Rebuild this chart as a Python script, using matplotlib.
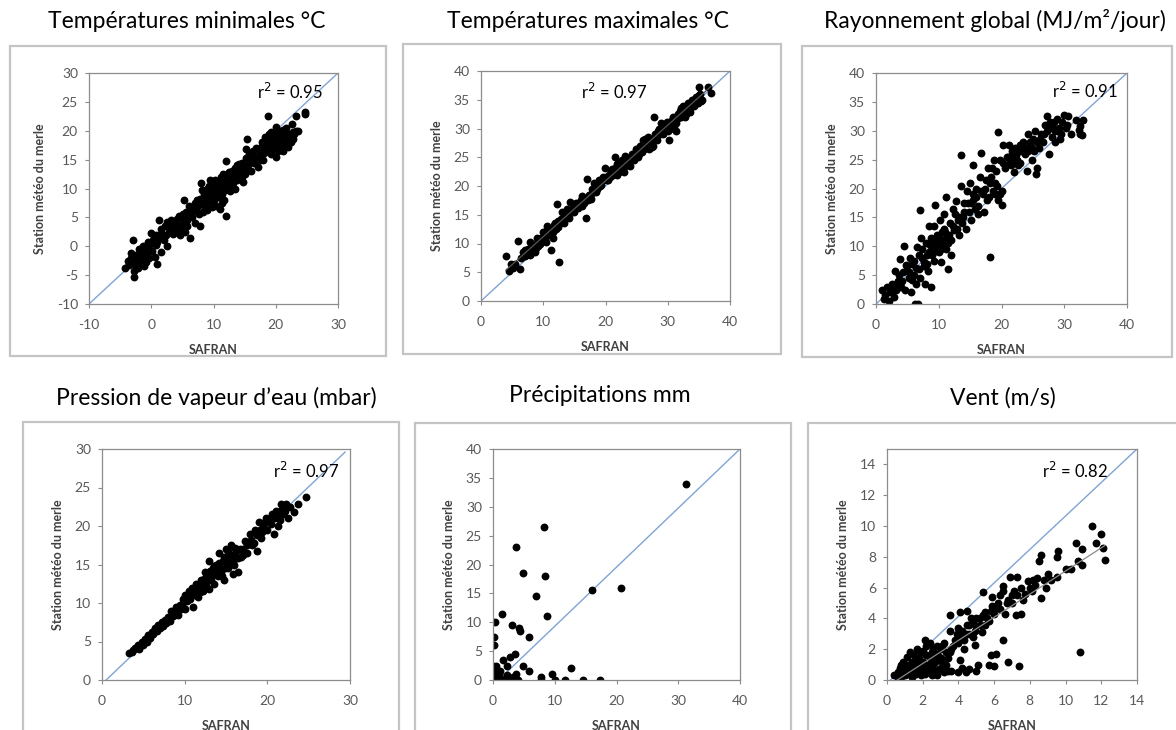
import matplotlib
matplotlib.use("Agg")
import matplotlib.pyplot as plt
import numpy as np
from matplotlib.patches import Rectangle

plt.rcParams['font.family'] = ['Lato', 'DejaVu Sans']
plt.rcParams['axes.unicode_minus'] = False

# ---------------- data (SAFRAN, station) ----------------
tmin_pts = [(-4.2,-3.8),(-3.8,-2.5),(-3.5,-3.0),(-3.2,-2.0),(-3.0,1.0),(-2.8,-5.3),(-2.7,-4.2),(-2.5,-3.5),
    (-2.4,-1.5),(-2.2,-2.5),(-2.0,-0.5),(-1.8,-3.0),(-1.7,-1.0),(-1.5,-2.2),(-1.3,0.0),(-1.2,-3.5),(-1.0,-1.5),
    (-0.8,-2.8),(-0.6,0.8),(-0.5,-1.0),(-0.3,-2.0),(0.0,0.5),(0.0,2.3),(0.2,-0.8),(0.4,1.5),(0.6,-1.8),(0.8,2.0),
    (1.0,-3.0),(1.0,0.8),(1.2,1.5),(1.3,4.5),(1.5,3.0),(1.6,-1.0),(1.8,2.2),(2.0,1.0),(2.2,3.5),(2.5,4.2),(2.6,0.0),
    (2.8,2.5),(3.0,3.0),(3.3,3.8),(3.5,2.2),(3.8,4.2),(4.0,2.8),(4.2,4.8),(4.5,3.5),(4.6,2.0),(4.8,5.0),(5.0,3.0),
    (5.2,4.2),(5.3,8.0),(5.5,2.5),(5.6,6.0),(5.8,4.5),(6.0,5.5),(6.2,1.5),(6.3,6.5),(6.5,5.0),(6.8,7.0),(7.0,4.0),
    (7.2,6.2),(7.4,8.0),(7.6,5.5),(7.8,3.5),(8.0,11.0),(8.0,7.5),(8.3,6.0),(8.5,9.0),(8.6,7.0),(8.8,8.5),(9.0,10.0),
    (9.0,6.2),(9.2,7.8),(9.4,11.5),(9.5,9.0),(9.7,6.8),(10.0,8.0),(10.0,10.5),(10.2,11.5),(10.4,7.0),(10.5,9.5),
    (10.7,8.5),(10.8,11.0),(11.0,10.0),(11.0,6.5),(11.2,12.0),(11.4,9.0),(11.5,10.8),(11.7,8.0),(12.0,5.3),
    (12.0,14.7),(12.0,11.5),(12.2,10.0),(12.5,12.8),(12.7,9.5),(13.0,13.0),(13.2,11.0),(13.5,10.0),(13.6,12.2),
    (13.8,14.0),(14.0,11.8),(14.2,13.0),(14.5,12.0),(14.6,14.5),(14.8,11.2),(15.0,13.5),(15.2,16.8),(15.4,18.5),
    (15.5,14.0),(15.8,15.0),(16.0,13.0),(16.2,15.8),(16.5,14.5),(16.8,17.0),(17.0,15.5),(17.2,13.8),(17.5,16.0),
    (17.8,18.0),(18.0,15.0),(18.0,17.2),(18.2,19.0),(18.5,16.5),(18.8,22.6),(19.0,18.0),(19.2,16.0),(19.4,18.8),
    (19.6,17.5),(19.8,19.5),(20.0,20.6),(20.0,15.5),(20.2,18.2),(20.4,17.0),(20.6,19.5),(20.8,20.0),(21.0,18.5),
    (21.2,16.5),(21.4,19.0),(21.6,17.5),(21.8,18.8),(22.0,19.5),(22.2,17.8),(22.5,18.0),(22.6,21.2),(22.8,19.8),
    (23.3,22.6),(23.3,20.0),(24.7,23.2),(24.7,22.9),
    (-3.6,-3.2),(-3.3,-1.2),(-2.9,-2.8),(-2.1,-3.8),(-1.9,-1.8),(-1.4,-0.5),(-0.9,-0.2),(-0.4,0.2),(0.3,1.0),
    (0.7,0.2),(1.4,2.0),(2.3,2.0),(3.1,4.5),(3.6,3.0),(4.1,3.8),(4.4,5.2),(5.1,5.5),(5.7,3.5),(6.1,7.0),(6.6,6.0),
    (7.0,7.5),(7.5,7.0),(7.9,8.2),(8.2,9.8),(8.4,8.0),(8.9,9.5),(9.1,8.2),(9.3,10.5),(9.6,8.0),(9.8,10.2),
    (10.1,9.0),(10.3,8.5),(10.6,10.5),(10.9,9.2),(11.1,11.2),(11.3,7.5),(11.6,12.5),(11.8,9.8),(12.1,12.2),
    (12.3,11.0),(12.6,10.5),(12.9,11.8),(13.1,12.5),(13.4,13.5),(13.7,11.5),(14.1,14.2),(14.4,12.8),(14.7,13.2),
    (15.1,12.5),(15.3,15.2),(15.7,16.0),(16.1,14.8),(16.4,16.5),(16.7,15.2),(17.1,16.8),(17.4,15.0),(17.7,17.2),
    (18.1,16.2),(18.4,18.0),(18.7,17.0),(18.9,19.5),(19.1,17.2),(19.3,19.8),(19.5,16.8),(19.7,18.2),(20.1,19.2),
    (20.3,16.5),(20.5,18.5),(20.7,17.8),(20.9,19.0),(21.1,20.2),(21.3,17.5),(21.5,18.2),(21.7,20.5),(21.9,17.2),
    (22.1,18.5),(22.3,19.0),(22.7,18.5),(23.0,19.5),(23.5,20.0)]

tmax_pts = [(4.0,7.8),(4.5,5.3),(4.8,6.5),(5.2,5.8),(6.0,10.5),(6.3,5.5),(6.5,7.5),(6.8,8.5),(7.0,7.8),(7.3,8.0),
    (7.6,9.0),(7.8,10.3),(8.0,8.3),(8.3,9.5),(8.5,8.8),(8.8,9.2),(9.0,11.0),(9.2,9.6),(9.5,10.0),(9.8,10.5),
    (10.0,12.0),(10.2,11.2),(10.4,10.3),(10.6,13.0),(10.8,11.5),(11.0,12.4),(11.3,8.8),(11.5,11.0),(11.7,13.2),
    (12.0,12.5),(12.2,16.8),(12.4,14.0),(12.5,6.7),(12.7,13.5),(13.0,15.5),(13.2,14.0),(13.5,14.5),(13.8,16.0),
    (14.0,15.0),(14.3,17.2),(14.6,16.0),(15.0,15.5),(15.3,17.0),(15.6,16.2),(16.0,17.5),(16.3,18.3),(16.6,17.0),
    (16.9,14.5),(17.1,21.3),(17.3,18.5),(17.6,17.8),(17.9,19.5),(18.2,20.5),(18.5,19.0),(18.8,20.0),(19.0,21.0),
    (19.3,20.2),(19.6,21.5),(19.9,23.2),(20.2,21.0),(20.5,22.0),(20.8,21.5),(21.0,23.0),(21.3,22.5),(21.5,25.0),
    (21.8,22.0),(22.0,24.0),(22.3,23.0),(22.6,24.5),(22.9,22.5),(23.2,25.3),(23.5,24.0),(23.8,24.8),(24.0,23.5),
    (24.3,25.5),(24.6,24.6),(24.9,26.5),(25.2,25.0),(25.5,27.0),(25.8,26.0),(26.0,28.0),(26.2,26.5),(26.5,27.5),
    (26.8,28.5),(27.0,26.5),(27.3,28.0),(27.6,27.0),(27.8,32.0),(28.0,29.0),(28.3,28.0),(28.6,30.0),(28.9,31.0),
    (29.2,29.0),(29.5,30.5),(29.8,31.2),(30.0,29.5),(30.2,28.0),(30.5,31.0),(30.8,32.0),(31.0,30.5),(31.3,29.5),
    (31.6,32.5),(31.9,33.0),(32.2,32.0),(32.5,34.0),(32.8,33.0),(33.0,32.5),(33.3,34.5),(33.6,33.5),(33.9,35.0),
    (34.2,34.0),(34.5,35.5),(34.8,34.5),(35.0,37.3),(35.2,36.0),(35.5,35.0),(36.5,37.3),(37.0,36.1),
    (5.5,6.5),(7.1,8.8),(7.9,8.0),(8.2,10.0),(8.7,8.5),(9.1,10.2),(9.6,11.0),(10.1,10.8),(10.5,12.2),(11.1,11.5),
    (11.6,12.0),(11.9,13.5),(12.3,12.8),(12.8,14.2),(13.3,13.5),(13.7,15.0),(14.2,14.5),(14.8,15.8),(15.2,16.5),
    (15.8,17.0),(16.2,16.5),(16.8,18.0),(17.2,17.5),(17.8,18.8),(18.3,19.2),(18.7,19.5),(19.1,20.0),(19.5,20.8),
    (20.0,21.5),(20.4,21.0),(20.9,22.5),(21.2,22.0),(21.6,23.2),(21.9,23.8),(22.2,22.5),(22.5,23.5),(22.8,24.0),
    (23.1,23.5),(23.4,24.8),(23.7,24.2),(24.1,25.0),(24.5,25.2),(24.8,25.8),(25.1,26.2),(25.4,25.5),(25.7,26.8),
    (25.9,27.2),(26.1,27.0),(26.4,28.2),(26.7,27.0),(26.9,28.0),(27.1,27.5),(27.4,26.8),(27.7,28.2),(28.1,28.5),
    (28.4,29.5),(28.7,29.0),(29.0,30.2),(29.4,29.8),(29.7,30.0),(30.1,30.8),(30.4,30.0),(30.7,31.5),(31.1,31.5),
    (31.4,31.0),(31.7,31.8),(32.1,33.5),(32.4,32.8),(32.7,32.0),(33.1,33.8),(33.5,32.8),(33.8,34.2),(34.1,35.0),
    (34.4,34.2),(34.7,35.2),(35.1,35.8),(35.3,34.8)]

ray_pts = [(1.0,2.5),(1.2,0.8),(1.5,1.5),(1.8,3.0),(2.0,0.5),(2.2,2.0),(2.5,3.5),(2.8,1.2),(3.0,5.8),(3.2,2.5),
    (3.5,4.0),(3.8,7.8),(4.0,3.0),(4.3,5.5),(4.5,10.0),(4.7,2.5),(5.0,6.5),(5.2,4.5),(5.4,8.0),(5.5,2.0),(5.8,7.0),
    (6.0,5.0),(6.2,0.0),(6.3,3.5),(6.5,9.8),(6.7,0.0),(6.8,6.0),(7.0,16.3),(7.0,4.5),(7.2,11.5),(7.4,8.0),(7.6,6.5),
    (7.8,3.5),(8.0,10.5),(8.2,7.0),(8.4,13.5),(8.5,9.0),(8.8,2.9),(8.8,11.5),(9.0,8.5),(9.2,13.5),(9.4,17.2),
    (9.5,10.0),(9.8,12.0),(10.0,9.0),(10.2,14.5),(10.4,7.2),(10.6,11.0),(10.8,15.5),(11.0,12.5),(11.2,18.5),
    (11.5,6.0),(11.5,10.5),(11.8,14.0),(12.0,8.5),(12.2,16.5),(12.5,12.8),(12.8,17.8),(13.0,14.5),(13.2,12.0),
    (13.5,25.8),(13.5,20.5),(13.8,15.0),(14.0,17.5),(14.3,13.0),(14.5,19.5),(14.8,16.0),(15.0,21.0),(15.2,14.5),
    (15.5,24.0),(15.5,18.0),(15.8,16.5),(16.0,20.0),(16.2,15.5),(16.5,22.0),(16.7,26.2),(17.0,19.0),(17.2,16.0),
    (17.5,21.5),(17.8,23.5),(18.0,18.5),(18.2,8.1),(18.4,22.0),(18.6,19.5),(18.8,25.0),(19.0,21.0),(19.2,23.0),
    (19.5,29.8),(19.5,18.0),(19.8,25.0),(20.0,19.5),(20.0,17.2),(20.3,27.5),(20.6,23.5),(21.0,25.5),(21.2,27.5),
    (21.5,24.0),(21.8,26.0),(22.0,22.8),(22.2,27.0),(22.5,25.0),(22.8,26.5),(23.0,24.5),(23.5,28.0),(23.8,26.0),
    (24.0,23.0),(24.2,29.5),(24.5,27.5),(24.8,25.0),(25.0,28.5),(25.3,30.0),(25.5,22.5),(25.7,23.5),(26.0,27.0),
    (26.3,29.5),(26.6,28.0),(27.0,31.0),(27.3,32.5),(27.5,26.0),(27.8,30.5),(28.0,29.0),(28.3,31.5),(28.6,28.0),
    (29.0,30.0),(29.3,28.5),(29.6,31.5),(30.0,32.8),(30.3,30.5),(30.6,32.5),(31.0,29.5),(31.8,31.8),(32.3,30.2),
    (32.5,30.8),(32.8,29.2),(33.0,31.8),
    (2.0,2.8),(2.6,2.2),(3.3,3.5),(3.7,5.0),(4.2,4.0),(4.8,6.8),(5.3,5.5),(5.7,4.2),(6.0,7.5),(6.4,6.2),(6.9,8.5),
    (7.3,9.5),(7.7,7.2),(8.1,8.5),(8.3,5.8),(8.6,10.2),(8.9,9.2),(9.1,11.0),(9.3,7.5),(9.6,9.2),(9.9,10.8),
    (10.1,11.8),(10.3,9.5),(10.5,12.5),(10.7,10.0),(10.9,13.0),(11.1,9.5),(11.3,11.8),(11.6,12.0),(11.9,11.0),
    (12.3,13.5),(12.6,15.5),(12.9,13.0),(13.3,15.0),(13.7,14.0),(14.1,16.0),(14.6,17.5),(15.1,17.5),(15.4,19.0),
    (15.9,18.5),(16.3,17.0),(16.8,19.5),(17.3,20.0),(17.7,18.0),(18.1,21.0),(18.5,23.5),(18.9,19.0),(19.3,20.5),
    (19.7,19.0),(20.2,24.5),(20.8,25.5),(21.3,24.5),(21.6,26.5),(21.9,25.0),(22.3,25.8),(22.6,24.0),(22.9,27.5),
    (23.3,26.5),(23.7,27.0),(24.3,26.5),(24.6,28.0),(24.9,27.0),(25.2,26.5),(25.6,28.0),(26.2,28.5),(26.8,29.5),
    (27.2,30.0),(27.7,31.5),(28.2,30.5),(28.5,30.0),(28.8,32.0),(29.2,30.5),(29.5,29.5),(30.5,31.0),(32.5,29.5)]

vap_pts = [(3.3,3.5),(3.6,3.6),(4.0,4.2),(4.3,4.5),(4.5,4.0),(4.8,5.0),(5.0,4.5),(5.2,5.3),(5.4,5.0),(5.6,5.8),
    (5.8,5.5),(6.0,6.2),(6.2,6.0),(6.4,6.8),(6.6,6.3),(6.8,7.2),(7.0,6.8),(7.2,7.5),(7.4,7.0),(7.6,7.8),(7.8,7.4),
    (8.0,8.2),(8.2,7.6),(8.4,9.0),(8.6,8.3),(8.8,8.8),(9.0,9.5),(9.2,8.5),(9.4,9.8),(9.6,9.2),(9.8,10.5),(10.0,9.2),
    (10.0,11.0),(10.3,10.2),(10.5,11.5),(10.7,10.5),(10.9,12.0),(11.0,9.5),(11.2,11.2),(11.4,12.5),(11.6,10.8),
    (11.8,12.0),(12.0,13.0),(12.2,11.5),(12.4,14.0),(12.6,12.2),(12.8,13.5),(13.0,15.5),(13.0,11.8),(13.2,13.0),
    (13.4,14.5),(13.6,12.5),(13.8,15.0),(14.0,13.5),(14.2,16.5),(14.4,14.0),(14.6,15.5),(14.8,13.0),(15.0,17.0),
    (15.2,14.5),(15.4,16.0),(15.6,17.5),(15.8,13.8),(16.0,15.0),(16.2,16.8),(16.5,14.0),(16.8,16.0),(17.0,17.0),
    (17.3,18.0),(17.6,16.5),(17.9,19.0),(18.2,17.5),(18.5,19.5),(18.8,16.8),(19.0,20.5),(19.2,18.5),(19.5,20.0),
    (19.8,21.0),(20.0,19.5),(20.3,20.5),(20.6,21.5),(20.8,19.0),(21.0,22.0),(21.3,20.0),(21.6,22.8),(21.9,21.5),
    (22.2,22.8),(22.5,21.0),(22.8,22.5),(23.2,21.8),(23.7,22.8),(24.7,23.8),
    (3.8,3.9),(4.6,4.6),(5.1,5.0),(5.5,5.4),(6.3,6.4),(6.9,6.9),(7.3,7.2),(7.7,7.6),(8.1,8.0),(8.5,8.6),(8.9,9.0),
    (9.3,9.4),(9.7,9.8),(10.1,10.4),(10.4,10.8),(10.6,11.0),(10.8,11.4),(11.1,11.8),(11.3,11.0),(11.5,11.6),
    (11.7,12.2),(11.9,11.4),(12.1,12.4),(12.3,12.8),(12.5,13.2),(12.7,12.8),(12.9,13.8),(13.1,14.2),(13.3,13.6),
    (13.5,14.8),(13.7,13.8),(13.9,14.2),(14.1,15.2),(14.3,14.6),(14.5,13.5),(14.7,16.0),(14.9,14.5),(15.1,15.5),
    (15.3,16.8),(15.5,15.2),(15.7,16.2),(15.9,15.5),(16.1,17.2),(16.4,15.8),(16.7,17.0),(17.1,16.2),(17.5,17.5),
    (18.0,18.2),(18.4,17.8),(18.7,18.8),(19.1,19.5),(19.4,19.2),(19.7,20.5),(20.1,20.8),(20.5,20.2),(20.9,21.0),
    (21.2,21.5),(21.5,20.8),(21.8,22.2),(22.1,22.0)]

prec_pts = [(0,0),(0,0.5),(0,1.0),(0,2.2),(0,2.5),(0.1,6.0),(0.1,7.5),(0.3,10.0),(0.4,0),(0.5,1.5),(0.5,2.5),
    (0.6,0.3),(0.8,0),(1.0,1.0),(1.2,1.5),(1.5,11.5),(1.5,0),(1.7,3.5),(2.0,0.2),(2.3,2.5),(2.8,4.0),(3.0,9.5),
    (3.0,0),(3.3,0.5),(3.6,4.5),(3.8,1.0),(3.8,23.0),(4.0,0),(4.2,9.0),(4.4,8.5),(4.8,18.5),(4.9,2.5),(5.8,7.5),
    (5.9,1.5),(7.0,14.5),(7.7,0),(7.8,0.5),(8.2,26.5),(8.5,18.0),(8.8,11.0),(9.6,1.0),(10.0,0),(11.7,0),(12.7,2.0),
    (14.5,0),(16.0,15.5),(17.4,0),(20.7,16.0),(31.3,34.0),(0.2,0.2),(0.3,1.2),(0.7,0.8),(1.0,0),(2.2,0.8),(0.2,1.8)]

vent_pts = [(0.5,0.3),(0.6,0.1),(0.6,0.5),(0.7,0.8),(0.8,0.2),(0.8,1.0),(0.9,0.5),(1.0,0.3),(1.0,0.8),(1.1,1.5),
    (1.2,0.4),(1.2,1.0),(1.3,0.6),(1.4,1.2),(1.4,0.2),(1.5,0.8),(1.5,1.6),(1.6,0.4),(1.7,2.0),(1.7,1.0),(1.8,0.6),
    (1.8,1.4),(1.9,0.3),(1.9,1.8),(2.0,0.8),(2.0,1.2),(2.1,2.6),(2.1,0.4),(2.2,1.6),(2.2,2.2),(2.3,0.6),(2.3,1.0),
    (2.4,2.4),(2.4,1.4),(2.5,0.3),(2.5,1.8),(2.6,0.8),(2.6,2.0),(2.7,1.2),(2.7,0.5),(2.8,2.2),(2.8,0.3),(2.9,1.5),
    (3.0,0.8),(3.0,2.0),(3.1,1.2),(3.2,0.5),(3.2,2.4),(3.3,1.8),(3.4,0.6),(3.4,1.4),(3.5,3.2),(3.5,4.2),(3.6,0.6),
    (3.6,2.0),(3.8,2.6),(3.9,3.0),(4.0,0.5),(4.0,3.4),(4.1,1.3),(4.1,4.4),(4.2,0.8),(4.2,3.2),(4.3,2.6),(4.3,2.0),
    (4.4,0.5),(4.5,3.6),(4.5,4.5),(4.6,0.7),(4.6,3.0),(4.7,4.0),(4.8,3.8),(4.9,3.2),(4.9,2.3),(5.0,0.6),(5.0,3.5),
    (5.1,1.0),(5.2,4.0),(5.3,3.1),(5.4,5.7),(5.4,4.2),(5.5,3.6),(5.6,4.0),(5.7,1.0),(5.8,4.5),(5.8,1.6),(5.9,5.4),
    (5.9,4.8),(6.0,0.9),(6.0,4.3),(6.1,1.7),(6.2,5.0),(6.3,4.6),(6.5,2.6),(6.5,5.8),(6.5,6.1),(6.6,4.3),(6.8,5.2),
    (6.8,1.2),(6.9,6.7),(7.0,5.0),(7.1,5.8),(7.2,4.2),(7.3,6.7),(7.3,5.5),(7.4,0.9),(7.5,6.0),(7.5,4.3),(7.7,5.6),
    (7.9,6.4),(8.0,6.0),(8.2,6.5),(8.4,6.6),(8.5,7.7),(8.6,8.1),(8.6,5.3),(8.8,6.5),(8.9,6.0),(9.0,6.9),(9.5,6.7),
    (9.5,8.0),(9.6,8.4),(10.3,7.2),(10.6,8.9),(10.7,7.7),(10.8,1.8),(10.9,8.5),(10.9,7.5),(11.5,10.0),(11.7,8.9),
    (12.0,9.5),(12.1,8.6),(12.2,7.8),
    (0.4,0.3),(0.7,0.4),(0.9,1.2),(1.1,0.6),(1.3,1.8),(1.6,1.2),(1.9,1.0),(2.0,1.9),(2.2,0.9),(2.4,0.8),(2.5,1.2),
    (2.6,1.5),(2.8,1.7),(2.9,0.7),(3.0,1.4),(3.1,2.2),(3.3,1.0),(3.5,1.8),(3.7,2.2),(3.9,2.6),(4.0,2.4),(4.2,2.8),
    (4.4,3.0),(4.6,3.6),(4.8,2.8),(5.0,4.0),(5.2,3.6),(5.5,4.4),(5.7,3.8),(6.0,4.6),(6.3,5.5),(6.7,5.0),(7.0,5.5),
    (7.6,5.2),(8.1,5.8),(8.3,6.2),(9.2,6.5),(10.0,7.2)]

titles = ["Températures minimales °C", "Températures maximales °C", "Rayonnement global (MJ/m²/jour)",
          "Pression de vapeur d’eau (mbar)", "Précipitations mm", "Vent (m/s)"]
r2_labels = ["r$^2$ = 0.95", "r$^2$ = 0.97", "r$^2$ = 0.91", "r$^2$ = 0.97", None, "r$^2$ = 0.82"]
xlims = [(-10, 30), (0, 40), (0, 40), (0, 30), (0, 40), (0, 14)]
ylims = [(-10, 30), (0, 40), (0, 40), (0, 30), (0, 40), (0, 15)]
xticks = [np.arange(-10, 31, 10), np.arange(0, 41, 10), np.arange(0, 41, 10), np.arange(0, 31, 10),
          np.arange(0, 41, 10), np.arange(0, 15, 2)]
yticks = [np.arange(-10, 31, 5), np.arange(0, 41, 5), np.arange(0, 41, 5), np.arange(0, 31, 5),
          np.arange(0, 41, 5), np.arange(0, 15, 2)]
ref_x = [(-10, 30), (0, 40), (0, 40), (0.5, 29.4), (0.9, 40), (0.2, 14)]
ref_y = [(-10, 30), (0, 40), (0, 40), (0, 29.6), (0, 40), (0, 15)]
all_pts = [tmin_pts, tmax_pts, ray_pts, vap_pts, prec_pts, vent_pts]

# ---------------- layout (pixels) ----------------
W, H = 1176, 730
axes_px = [(89, 338, 73, 304), (481, 730, 71, 301), (876, 1127, 73, 304),
           (102, 350, 449, 680), (493, 740, 449, 680), (887, 1137, 449, 680)]
frames_px = [(10, 386, 46, 356), (403, 781, 44, 354), (802, 1172, 46, 357),
             (23, 399, 422, 740), (415, 791, 423, 740), (808, 1180, 423, 740)]
title_px = [(187, 21), (588, 21), (995, 21), (216, 398), (600, 396), (1003, 398)]
r2_pos = [(0.675, 0.918), (0.40, 0.909), (0.70, 0.922), (0.69, 0.905), None, (0.62, 0.905)]

fig = plt.figure(figsize=(W / 100, H / 100), dpi=100)
fig.patch.set_facecolor('white')

for (l, r, t, b) in frames_px:
    fig.patches.append(Rectangle((l / W, 1 - b / H), (r - l) / W, (b - t) / H, transform=fig.transFigure,
                                 fill=False, edgecolor='#c4c4c4', linewidth=1.6))

tick_col = '#595959'
for i in range(6):
    l, r, t, b = axes_px[i]
    ax = fig.add_axes([l / W, 1 - b / H, (r - l) / W, (b - t) / H])
    pts = np.array(all_pts[i], dtype=float)
    ax.plot(ref_x[i], ref_y[i], color='#7fa4d4', lw=1.0, zorder=1)
    if i in (1, 5):
        coef = np.polyfit(pts[:, 0], pts[:, 1], 1)
        xx = np.array([pts[:, 0].min(), pts[:, 0].max()])
        ax.plot(xx, np.polyval(coef, xx), color='#555555' if i == 1 else '#8a8a8a', lw=0.9, zorder=3)
    ax.scatter(pts[:, 0], pts[:, 1], s=32, color='black', linewidths=0, zorder=2)
    ax.set_xlim(*xlims[i]); ax.set_ylim(*ylims[i])
    ax.set_xticks(xticks[i]); ax.set_yticks(yticks[i])
    for s in ax.spines.values():
        s.set_color('#8c8c8c'); s.set_linewidth(0.9)
    ax.tick_params(direction='out', length=3, width=0.8, color='#8c8c8c', labelcolor=tick_col,
                   labelsize=10)
    ax.tick_params(axis='x', pad=8)
    ax.tick_params(axis='y', pad=5)
    ax.set_xlabel('SAFRAN', fontsize=9, fontweight='bold', color='#404040', labelpad=9)
    ax.set_ylabel('Station météo du merle', fontsize=9, fontweight='bold', color='#404040', labelpad=8)
    if r2_labels[i]:
        ax.text(r2_pos[i][0], r2_pos[i][1], r2_labels[i], transform=ax.transAxes, fontsize=12,
                ha='left', va='center', color='black')
    tx, ty = title_px[i]
    fig.text(tx / W, 1 - ty / H, titles[i], ha='center', va='center', fontsize=16.5, color='black')

fig.savefig('out.png', dpi=100)
